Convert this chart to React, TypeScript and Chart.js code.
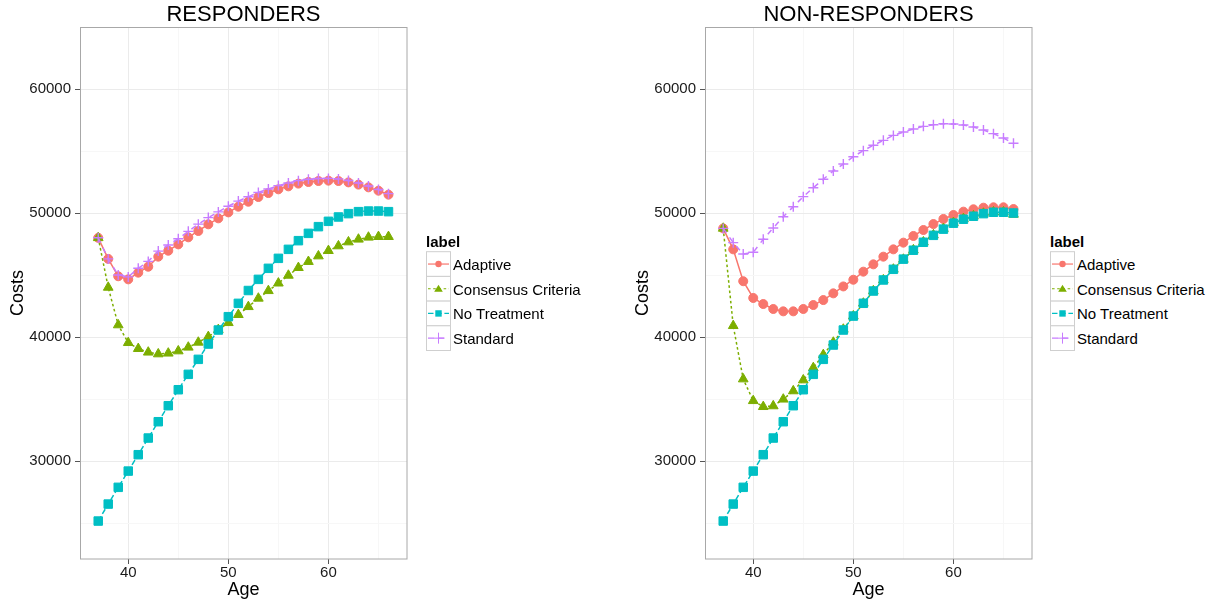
import React, { useEffect, useRef } from 'react';
import { Chart, registerables } from 'chart.js';

Chart.register(...registerables);

const FONT = "'Liberation Sans', Arial, Helvetica, sans-serif";

const ages = [37, 38, 39, 40, 41, 42, 43, 44, 45, 46, 47, 48, 49, 50, 51, 52, 53, 54, 55, 56, 57, 58, 59, 60, 61, 62, 63, 64, 65, 66];
const xTickValues = [40, 45, 50, 55, 60, 65];
const yTickValues = [25000, 30000, 35000, 40000, 45000, 50000, 55000, 60000];
const seriesLabels = ['Adaptive', 'Consensus Criteria', 'No Treatment', 'Standard'];
const seriesColors = ['#F8766D', '#7CAE00', '#00BFC4', '#C77CFF'];

const respAdaptive = [48000, 46300, 44900, 44650, 45190, 45670, 46480, 46960, 47470, 48040, 48550, 49090, 49570, 50050, 50510, 50910, 51290, 51610, 51910, 52150, 52370, 52500, 52580, 52610, 52580, 52470, 52290, 52070, 51800, 51480];
const respConsensus = [48000, 44000, 40970, 39540, 39060, 38770, 38630, 38690, 38870, 39170, 39570, 40025, 40590, 41150, 41800, 42440, 43120, 43730, 44340, 44970, 45590, 46080, 46530, 46960, 47340, 47660, 47880, 48040, 48090, 48090];
const respNoTreatment = [25160, 26530, 27880, 29190, 30510, 31855, 33170, 34460, 35750, 36990, 38200, 39435, 40565, 41640, 42715, 43750, 44650, 45540, 46345, 47070, 47770, 48360, 48900, 49330, 49680, 49950, 50110, 50160, 50160, 50110];
const respStandard = [48000, 46300, 45000, 44850, 45540, 46100, 46930, 47420, 47930, 48520, 49100, 49630, 50090, 50550, 50960, 51310, 51660, 51940, 52210, 52420, 52610, 52720, 52780, 52790, 52750, 52620, 52420, 52180, 51900, 51560];

const nonAdaptive = [48760, 47070, 44500, 43150, 42660, 42260, 42070, 42070, 42260, 42580, 42980, 43520, 44080, 44620, 45270, 45860, 46480, 47070, 47610, 48150, 48630, 49110, 49520, 49840, 50110, 50300, 50430, 50460, 50460, 50320];
const nonConsensus = [48760, 40910, 36610, 34860, 34380, 34440, 34980, 35650, 36530, 37520, 38570, 39570, 40620, 41690, 42720, 43720, 44600, 45460, 46260, 47020, 47660, 48230, 48740, 49220, 49540, 49760, 49970, 50080, 50080, 49890];
const nonNoTreatment = [25160, 26530, 27880, 29190, 30510, 31855, 33170, 34460, 35750, 36990, 38200, 39355, 40565, 41690, 42720, 43710, 44600, 45460, 46280, 47000, 47640, 48200, 48700, 49180, 49500, 49740, 49950, 50060, 50060, 50000];
const nonStandard = [48760, 47610, 46690, 46830, 47880, 48790, 49700, 50510, 51320, 52040, 52720, 53390, 53950, 54540, 55030, 55460, 55860, 56260, 56530, 56770, 56990, 57120, 57200, 57180, 57100, 56940, 56690, 56400, 56050, 55620];

const dashes = [[], [2.6, 2.6], [5.5, 2.7], [5.5, 5.5]];
const pointStyles = ['circle', 'triangle', 'rect', 'cross'];
const pointRadii = [4.5, 5.6, 6, 5];
const pointBorderWidths = [1, 1, 1, 1.4];

const panelBorder = {
  id: 'panelBorder',
  afterDraw(chart: any) {
    const { ctx, chartArea } = chart;
    const { left, top, right, bottom } = chartArea;
    ctx.save();
    ctx.strokeStyle = '#a8a8a8';
    ctx.lineWidth = 1;
    ctx.strokeRect(Math.round(left) + 0.5, Math.round(top) + 0.5, Math.round(right - left) - 0.5, Math.round(bottom - top) - 0.5);
    ctx.restore();
  },
};

const MAJOR_GRID = '#ebebeb';
const MINOR_GRID = '#f7f7f7';
const TICK_COLOR = '#555555';
const TEXT_COLOR = '#1a1a1a';

function Panel({ left, title, values }: { left: number; title: string; values: number[][] }) {
  const ref = useRef<HTMLCanvasElement>(null);
  useEffect(() => {
    const chart = new Chart(ref.current as HTMLCanvasElement, {
      type: 'line',
      data: {
        datasets: seriesLabels.map((label, i) => ({
          label,
          data: ages.map((a, j) => ({ x: a, y: values[i][j] })),
          borderColor: seriesColors[i],
          backgroundColor: seriesColors[i],
          pointBackgroundColor: seriesColors[i],
          pointBorderColor: seriesColors[i],
          borderWidth: 1.5,
          borderDash: dashes[i],
          pointStyle: pointStyles[i] as any,
          pointRadius: pointRadii[i],
          pointBorderWidth: pointBorderWidths[i],
          order: 3 - i,
          tension: 0,
          fill: false,
        })),
      },
      options: {
        animation: false,
        responsive: false,
        events: [],
        layout: { padding: { left: 0, right: 3, top: 0, bottom: 0 } },
        plugins: {
          legend: { display: false },
          tooltip: { enabled: false },
          title: {
            display: true,
            text: title,
            color: '#000',
            fullSize: false,
            font: { family: FONT, size: 22, weight: 'normal', lineHeight: 1 },
            padding: { top: 4, bottom: 1 },
          },
        },
        scales: {
          x: {
            type: 'linear',
            min: 35.18,
            max: 67.85,
            afterBuildTicks: (s: any) => {
              s.ticks = xTickValues.map((v) => ({ value: v }));
            },
            afterFit: (s: any) => {
              s.height = 43;
            },
            ticks: {
              autoSkip: false,
              maxRotation: 0,
              padding: 0,
              color: TEXT_COLOR,
              font: { family: FONT, size: 15 },
              callback: (v: any) => (Number(v) % 10 === 0 ? String(v) : ''),
            },
            grid: {
              color: (c: any) => (c.tick && c.tick.value % 10 === 0 ? MAJOR_GRID : MINOR_GRID),
              tickColor: (c: any) => (c.tick && c.tick.value % 10 === 0 ? TICK_COLOR : 'rgba(0,0,0,0)'),
              tickLength: 5,
              lineWidth: 1,
            },
            border: { display: false },
            title: {
              display: true,
              text: 'Age',
              color: '#000',
              font: { family: FONT, size: 18 },
              padding: { top: 0, bottom: 1 },
            },
          },
          y: {
            type: 'linear',
            min: 22100,
            max: 65000,
            afterBuildTicks: (s: any) => {
              s.ticks = yTickValues.map((v) => ({ value: v }));
            },
            afterFit: (s: any) => {
              s.width = 80;
            },
            ticks: {
              autoSkip: false,
              padding: 4,
              color: TEXT_COLOR,
              font: { family: FONT, size: 15 },
              callback: (v: any) => (Number(v) % 10000 === 0 ? String(v) : ''),
            },
            grid: {
              color: (c: any) => (c.tick && c.tick.value % 10000 === 0 ? MAJOR_GRID : MINOR_GRID),
              tickColor: (c: any) => (c.tick && c.tick.value % 10000 === 0 ? TICK_COLOR : 'rgba(0,0,0,0)'),
              tickLength: 5,
              lineWidth: 1,
            },
            border: { display: false },
            title: {
              display: true,
              text: 'Costs',
              color: '#000',
              font: { family: FONT, size: 18 },
              padding: { top: 7, bottom: 0 },
            },
          },
        },
      } as any,
      plugins: [panelBorder],
    });
    return () => chart.destroy();
  }, []);
  return (
    <canvas
      ref={ref}
      width={414}
      height={602}
      style={{ position: 'absolute', left, top: 0, width: 414, height: 602 }}
    />
  );
}

function KeyMarker({ i, cx, cy }: { i: number; cx: number; cy: number }) {
  const c = seriesColors[i];
  if (i === 0) return <circle cx={cx} cy={cy} r={3.2} fill={c} />;
  if (i === 1) return <polygon points={`${cx},${cy - 4} ${cx + 4.3},${cy + 3} ${cx - 4.3},${cy + 3}`} fill={c} />;
  if (i === 2) return <rect x={cx - 3.2} y={cy - 3.2} width={6.4} height={6.4} fill={c} />;
  return (
    <g stroke={c} strokeWidth={1}>
      <line x1={cx - 5.5} y1={cy} x2={cx + 5.5} y2={cy} />
      <line x1={cx} y1={cy - 5.5} x2={cx} y2={cy + 5.5} />
    </g>
  );
}

function Legend({ left }: { left: number }) {
  const boxTop = 21.7;
  const boxH = 24.7;
  return (
    <svg
      width={200}
      height={130}
      style={{ position: 'absolute', left, top: 230, overflow: 'visible' }}
      fontFamily={FONT}
    >
      <text x={0} y={17} fontSize={15} fontWeight="bold" fill="#000">
        label
      </text>
      {seriesLabels.map((label, i) => {
        const y = boxTop + i * boxH;
        const cy = y + boxH / 2;
        return (
          <g key={label}>
            <rect x={0.5} y={y} width={24} height={boxH} fill="#fff" stroke="#cfcfcf" strokeWidth={1} />
            <line
              x1={2}
              y1={cy}
              x2={23}
              y2={cy}
              stroke={seriesColors[i]}
              strokeWidth={1.2}
              strokeDasharray={dashes[i].length ? dashes[i].join(' ') : undefined}
            />
            <KeyMarker i={i} cx={12.5} cy={cy} />
            <text x={27} y={cy + 6} fontSize={15} fill="#000">
              {label}
            </text>
          </g>
        );
      })}
    </svg>
  );
}

export default function App() {
  return (
    <div
      style={{
        position: 'absolute',
        left: 0,
        top: 0,
        width: 1212,
        height: 602,
        background: '#fff',
        overflow: 'hidden',
        fontFamily: FONT,
      }}
    >
      <Panel left={0} title="RESPONDERS" values={[respAdaptive, respConsensus, respNoTreatment, respStandard]} />
      <Panel left={625} title="NON-RESPONDERS" values={[nonAdaptive, nonConsensus, nonNoTreatment, nonStandard]} />
      <Legend left={426} />
      <Legend left={1050} />
    </div>
  );
}
